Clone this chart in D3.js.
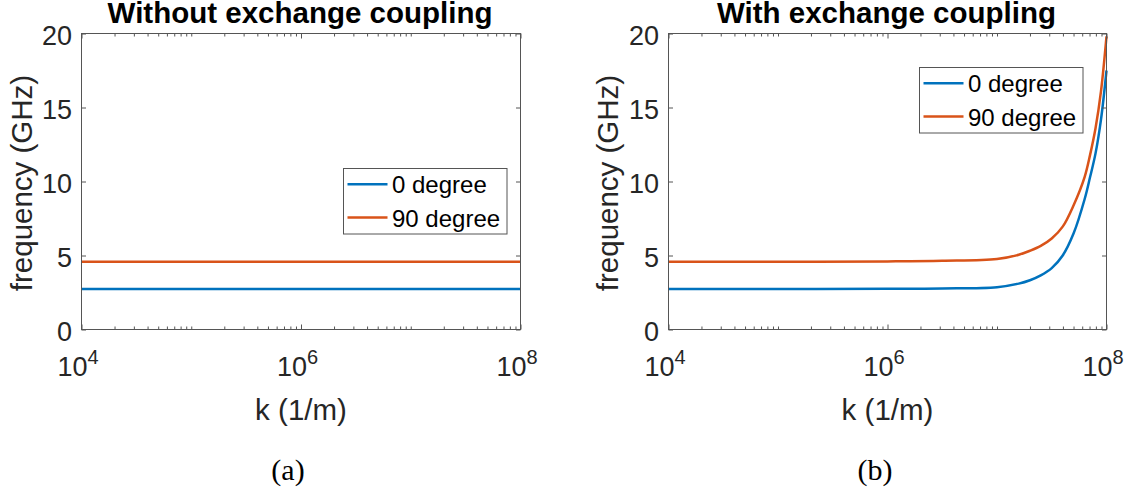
<!DOCTYPE html>
<html>
<head>
<meta charset="utf-8">
<script src="https://cdn.jsdelivr.net/npm/d3@7"></script>
<style>
  body { margin: 0; background: #fff; }
  svg { display: block; }
</style>
</head>
<body>
<script>
// values

// (a) flat lines
var kA = [1e4, 1e5, 1e6, 1e7, 1e8]
var freqA0 = [2.74, 2.74, 2.74, 2.74, 2.74]
var freqA90 = [4.58, 4.58, 4.58, 4.58, 4.58]

// (b) exchange term kicks in near 1e7
var kB = [1e4, 1e5, 1e6, 3.16e6, 1e7, 1.58e7, 2e7, 2.51e7, 3.16e7, 3.98e7, 5.01e7, 6.31e7, 7.08e7, 7.94e7, 8.91e7, 1e8]
var freqB0 = [2.74, 2.74, 2.75, 2.77, 2.86, 3.10, 3.33, 3.66, 4.15, 5.0, 6.5, 8.8, 10.3, 11.9, 14.2, 17.5]
var freqB90 = [4.58, 4.58, 4.60, 4.64, 4.76, 5.05, 5.32, 5.65, 6.15, 6.95, 8.4, 10.3, 11.8, 13.6, 16.1, 19.8]

var seriesNames = ["0 degree", "90 degree"]
var seriesColors = ["#0072BD", "#D95319"]
var titles = ["Without exchange coupling", "With exchange coupling"]
var captions = ["(a)", "(b)"]
var yTicks = [0, 5, 10, 15, 20]
var xLabelTicks = [1e4, 1e6, 1e8]

var w = 1137
var h = 489

var svg = d3.select("body")
			.append("svg")
			.attr("width", w)
			.attr("height", h)

// layout of both panels
var panels = [
	{ x0: 81.5, x1: 520.5, k: kA, s0: freqA0, s90: freqA90, legX: 343.5, legY: 168.5, yLabX: 31.5, capX: 288 },
	{ x0: 668.5, x1: 1106.5, k: kB, s0: freqB0, s90: freqB90, legX: 919.5, legY: 67.5, yLabX: 618, capX: 875 }
]
var plotTop = 33.5
var plotBottom = 329.5

// minor log ticks 1..9 x 10^n
var minorTicks = []
for (var e = 4; e < 8; e++) {
	for (var m = 1; m < 10; m++) {
		minorTicks.push(m * Math.pow(10, e))
	}
}
minorTicks = minorTicks.filter(function(d) { return xLabelTicks.indexOf(d) < 0 })

var font = "'Liberation Sans', Arial, Helvetica, sans-serif"
var axisCol = "#555"
var textCol = "#262626"

panels.forEach(function(p, i) {
	var xScale = d3.scaleLog()
					.domain([1e4, 1e8])
					.range([p.x0, p.x1])
	var yScale = d3.scaleLinear()
					.domain([0, 20])
					.range([plotBottom, plotTop])

	var g = svg.append("g")

	// lines
	var line = d3.line()
				.x(function(d) { return xScale(d[0]) })
				.y(function(d) { return yScale(d[1]) })
				.curve(d3.curveCatmullRom.alpha(0.5))

	var series = [p.s0, p.s90]
	series.forEach(function(s, j) {
		g.append("path")
			.datum(p.k.map(function(k, n) { return [k, s[n]] }))
			.attr("d", line)
			.attr("fill", "none")
			.attr("stroke", seriesColors[j])
			.attr("stroke-width", 2.5)
	})

	// bottom axis, major with labels
	var xAxis = g.append("g")
		.attr("transform", "translate(0," + plotBottom + ")")
		.call(d3.axisBottom(xScale).tickValues(xLabelTicks).tickSize(-5).tickSizeOuter(0).tickPadding(0))
	xAxis.selectAll(".tick text").each(function(d) {
		var t = d3.select(this).text("")
			.attr("y", 46)
			.attr("dy", null)
			.attr("x", -4)
		t.append("tspan").text("10")
		t.append("tspan")
			.attr("dy", -12)
			.attr("font-size", 20)
			.text(Math.round(Math.log10(d)))
	})
	xAxis.selectAll(".tick text")
		.attr("font-size", 27)

	// minor ticks bottom & top
	g.append("g")
		.attr("transform", "translate(0," + plotBottom + ")")
		.call(d3.axisBottom(xScale).tickValues(minorTicks).tickSize(-3).tickSizeOuter(0).tickFormat(""))
	g.append("g")
		.attr("transform", "translate(0," + plotTop + ")")
		.call(d3.axisTop(xScale).tickValues(minorTicks).tickSize(-3).tickSizeOuter(0).tickFormat(""))
	g.append("g")
		.attr("transform", "translate(0," + plotTop + ")")
		.call(d3.axisTop(xScale).tickValues(xLabelTicks).tickSize(-5).tickSizeOuter(0).tickFormat(""))

	// y axis left with labels, right mirrored
	var yAxis = g.append("g")
		.attr("transform", "translate(" + p.x0 + ",0)")
		.call(d3.axisLeft(yScale).tickValues(yTicks).tickSize(-4.5).tickSizeOuter(0).tickPadding(9.5))
	yAxis.selectAll(".tick text")
		.attr("font-size", 27)
		.attr("dy", 10.5)
	g.append("g")
		.attr("transform", "translate(" + p.x1 + ",0)")
		.call(d3.axisRight(yScale).tickValues(yTicks).tickSize(-4.5).tickSizeOuter(0).tickFormat(""))

	g.selectAll(".domain").remove()
	g.selectAll(".tick line").attr("stroke", axisCol)
	g.selectAll(".tick text")
		.attr("fill", textCol)
		.attr("font-family", font)

	g.append("rect")
		.attr("x", p.x0)
		.attr("y", plotTop)
		.attr("width", p.x1 - p.x0)
		.attr("height", plotBottom - plotTop)
		.attr("fill", "none")
		.attr("stroke", axisCol)
		.attr("stroke-width", 1)

	// title
	svg.append("text")
		.attr("x", (p.x0 + p.x1) / 2 - 1)
		.attr("y", 22.5)
		.attr("text-anchor", "middle")
		.attr("font-family", font)
		.attr("font-weight", "bold")
		.attr("font-size", 29.5)
		.attr("fill", "#000")
		.text(titles[i])

	// axis labels
	svg.append("text")
		.attr("x", (p.x0 + p.x1) / 2)
		.attr("y", 419.5)
		.attr("text-anchor", "middle")
		.attr("font-family", font)
		.attr("font-size", 29.5)
		.attr("fill", textCol)
		.text("k (1/m)")

	svg.append("text")
		.attr("transform", "translate(" + p.yLabX + "," + 183 + ") rotate(-90)")
		.attr("text-anchor", "middle")
		.attr("font-family", font)
		.attr("font-size", 29.5)
		.attr("fill", textCol)
		.text("frequency (GHz)")

	// legend
	var leg = svg.append("g")
		.attr("transform", "translate(" + p.legX + "," + p.legY + ")")
	leg.append("rect")
		.attr("width", 163.5)
		.attr("height", 65.5)
		.attr("fill", "#fff")
		.attr("stroke", axisCol)
	seriesNames.forEach(function(name, j) {
		var ly = 15.7 + j * 33.3
		leg.append("line")
			.attr("x1", 4)
			.attr("x2", 44)
			.attr("y1", ly)
			.attr("y2", ly)
			.attr("stroke", seriesColors[j])
			.attr("stroke-width", 2.5)
		leg.append("text")
			.attr("x", 48.5)
			.attr("y", ly + 9)
			.attr("font-family", font)
			.attr("font-size", 24)
			.attr("fill", "#000")
			.text(name)
	})

	// caption
	svg.append("text")
		.attr("x", p.capX)
		.attr("y", 480)
		.attr("text-anchor", "middle")
		.attr("font-family", "'Liberation Serif', 'DejaVu Serif', serif")
		.attr("font-size", 30)
		.attr("fill", "#000")
		.text(captions[i])
})
</script>
</body>
</html>
